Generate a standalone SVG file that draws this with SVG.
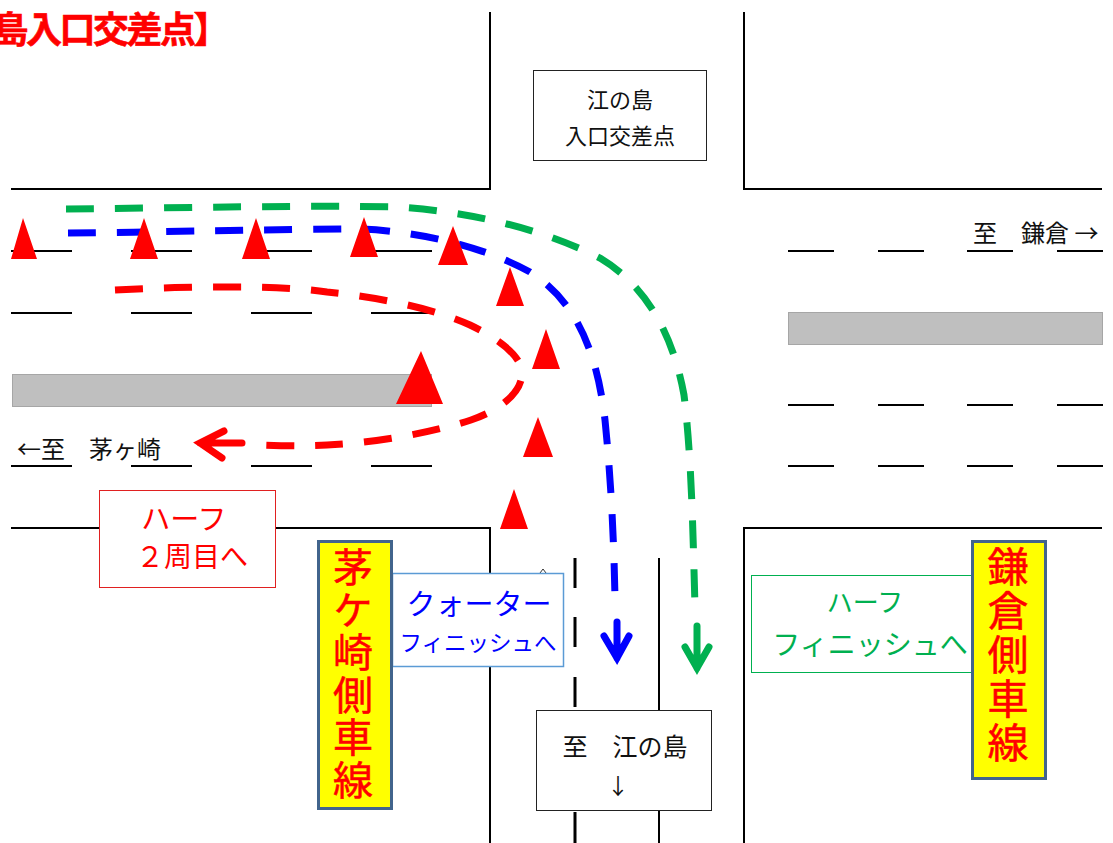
<svg xmlns="http://www.w3.org/2000/svg" width="1113" height="843" viewBox="0 0 1113 843">
<style>
text{font-family:"Noto Sans CJK JP","Liberation Sans",sans-serif;text-anchor:middle}
.st{text-anchor:start}
.road{fill:none;stroke:#000;stroke-width:2}
.lane{stroke:#000;stroke-width:2}
.med{fill:#bfbfbf;stroke:#a6a6a6;stroke-width:1}
.box{fill:#fff;stroke:#222;stroke-width:1}
.sign{fill:#ffff00;stroke:#41648c;stroke-width:3}
.cone{fill:#ff0000}
.route{fill:none;stroke-width:7;stroke-dasharray:28 21}
.head{fill:none;stroke-width:7;stroke-linecap:round;stroke-linejoin:miter}
.k{font-size:22px;fill:#111}
.sg{fill:#ff0000;stroke:#ff0000;stroke-width:.5;writing-mode:vertical-rl;text-anchor:start}
</style>
<rect width="1113" height="843" fill="#fff"/>
<g id="roads">
<path class="road" d="M11 189H490V12M744 12V189H1102M11 528H490V843M744 843V528H1102M659 558V843"/>
<path d="M575 558v30M575 617v30M575 677v30M575 812v31" fill="none" stroke="#000" stroke-width="3"/>
<path class="lane" d="M11 251h61M131 251h61M251 251h61M371 251h61M11 313h61M131 313h61M251 313h61M371 313h61M11 466h61M131 466h61M251 466h61M371 466h61M788 251h46M878 251h46M967 251h46M1057 251h46M788 405h46M878 405h46M967 405h46M1057 405h46M788 466h46M878 466h46M967 466h46M1057 466h46"/>
<rect class="med" x="12.500" y="374.500" width="419" height="32"/>
<rect class="med" x="788.500" y="312.500" width="314" height="32"/>
<path d="M540 573L543 569L546 573" fill="none" stroke="#333" stroke-width="1"/>
</g>
<g id="connectors">
<path class="route" stroke="#00b050" d="M66 209C180 208 300 205 400 207C470 212 540 228 600 258C650 288 674 340 684 395C692 460 693 540 695 606"/>
<path class="route" stroke="#0000ff" d="M68 233C170 232 280 229 360 229C430 232 490 250 530 272C575 300 597 350 605 420C612 490 614 550 615 598"/>
<path class="route" stroke="#ff0000" d="M115 290C190 286 280 285 327 292C375 297 430 307 470 325C495 337 522 355 522 373C522 395 495 412 471 420C430 433 375 443 327 445C310 446 290 446 262 445"/>
<path class="head" stroke="#ff0000" d="M224 431L200 443L222 458M200 443H242"/>
<path class="head" stroke="#0000ff" d="M604 636L617 658L629 636M617 658V622"/>
<path class="head" stroke="#00b050" d="M685 647L697 668L709 647M697 668V626"/>
</g>
<g id="cones">
<path class="cone" d="M23 218L37 259H11ZM144 218L158 259H130ZM256 218L270 259H242ZM364 217L378 257H350ZM453 226L468 265H438ZM510 267L524 306H496ZM546 329L560 369H532ZM421 351L443 404H396ZM538 417L553 457H523ZM514 489L528 529H500Z"/>
</g>
<g id="title"><text class="st" x="-7.500" y="43" font-size="36" font-weight="700" fill="#ff0000" stroke="#ff0000" stroke-width=".6" letter-spacing="-2.500">島入口交差点】</text></g>
<g id="node-enoshima"><rect class="box" x="533.500" y="70.500" width="173" height="90"/>
<text class="k" x="620" y="108">江の島</text><text class="k" x="620" y="144">入口交差点</text></g>
<g id="label-kamakura"><text class="st" x="973" y="242" font-size="24" fill="#111">至　鎌倉 →</text></g>
<g id="label-chigasaki"><text class="st" x="17" y="458" font-size="24" fill="#111">←至　茅ヶ崎</text></g>
<g id="node-half2"><rect x="99.500" y="490.500" width="176" height="97" fill="#fff" stroke="#e02020"/>
<text x="184" y="530" font-size="29" fill="#ff0000">ハーフ</text><text x="192" y="567" font-size="28" fill="#ff0000">２周目へ</text></g>
<g id="node-quarter"><rect x="392.500" y="573.500" width="171" height="93" fill="#fff" stroke="#5b9bd5" stroke-width="1.500"/>
<text x="479" y="615" font-size="29" fill="#0000ff">クォーター</text><text x="478" y="651" font-size="22.500" fill="#0000ff">フィニッシュへ</text></g>
<g id="node-half-finish"><rect x="751.500" y="575.500" width="222" height="97" fill="#fff" stroke="#00b050"/>
<text x="865" y="612" font-size="26" fill="#00b050">ハーフ</text><text x="870" y="655" font-size="28" fill="#00b050">フィニッシュへ</text></g>
<g id="node-chigasaki-lane"><rect class="sign" x="318.500" y="541.500" width="73" height="267"/>
<text class="sg" x="353" y="547" font-size="40" letter-spacing="2.500">茅ケ崎側車線</text></g>
<g id="node-kamakura-lane"><rect class="sign" x="972.500" y="541.500" width="73" height="237"/>
<text class="sg" x="1008" y="546" font-size="41" letter-spacing="3">鎌倉側車線</text></g>
<g id="node-to-enoshima"><rect class="box" x="536.500" y="710.500" width="175" height="100"/>
<text class="k" style="font-size:25px" x="625" y="756">至　江の島</text><text class="k" x="618" y="794">↓</text></g>
</svg>
